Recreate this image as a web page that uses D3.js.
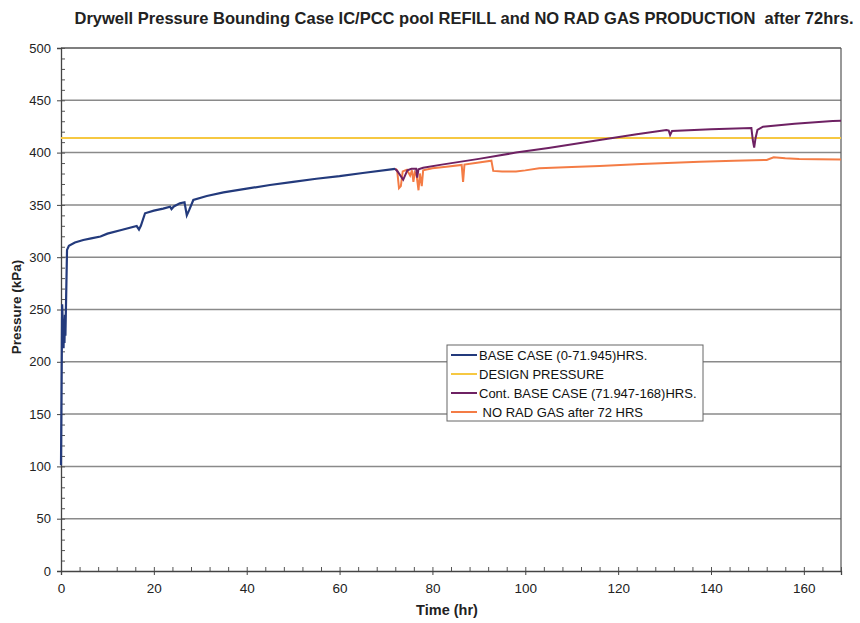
<!DOCTYPE html>
<html>
<head>
<meta charset="utf-8">
<script src="https://cdn.jsdelivr.net/npm/d3@7"></script>
<style>
  body { margin: 0; background: #fff; }
  svg text { font-family: "Liberation Sans", Arial, sans-serif; white-space: pre; }
</style>
</head>
<body>
<div id="chart"></div>
<script>
// --- Data ---
const baseCaseTime = [0, 0.25, 0.4, 0.55, 0.65, 0.75, 0.85, 0.95, 1.3, 1.7, 3, 4.8, 6.5, 8.5, 10, 13, 16.3, 16.8, 17.2, 18.1, 20, 22, 23.5, 23.8, 24.3, 25.6, 26.6, 27.1, 27.6, 28.5, 31.4, 35, 40, 45, 50, 55, 60, 65, 71.945];
const baseCasePressure = [101, 255, 235, 213, 240, 218, 245, 225, 307, 311, 314, 316.4, 318, 319.8, 322.5, 326, 329.8, 326.5, 330, 342, 344.5, 346.5, 348.3, 346, 348.5, 351.5, 352.5, 340, 345, 354.7, 358.5, 362, 365.5, 369, 372, 375, 377.5, 380.5, 384.5];

const contTime = [71.947, 72.5, 73.7, 74.6, 75.5, 76.5, 76.7, 77, 78, 82, 90, 98, 105, 116, 124, 130.4, 130.9, 131.2, 131.6, 140, 148.7, 149, 149.3, 149.6, 150, 151.2, 158, 166.2, 168];
const contPressure = [384.5, 382, 374, 383, 384.5, 384.5, 376, 384, 385.5, 388.5, 394, 400, 404.5, 412, 417.5, 421.6, 421, 416.8, 420.6, 422.3, 423.5, 412, 404.7, 414, 421.6, 424.8, 427.5, 430.2, 430.5];

const noRadTime = [71.95, 72.4, 72.8, 73.2, 73.6, 74.5, 75.2, 75.6, 75.9, 76.2, 76.6, 77, 77.3, 77.7, 78, 80, 83, 86.3, 86.6, 86.9, 90, 92.7, 93.1, 95, 98, 100, 103, 110, 116, 125, 137.6, 145, 152, 153.5, 156, 159, 163, 168];
const noRadPressure = [384.5, 383, 366, 368, 382, 383.5, 378, 383, 372, 381, 378, 364, 380, 368, 383, 385, 386.5, 388.2, 372, 388.5, 390.5, 392.3, 382.5, 382, 382, 383, 385, 386.2, 387.2, 389, 391.3, 392.3, 393, 395.5, 394.5, 393.9, 393.6, 393.5];

const designPressure = 414;

const seriesNames = ["BASE CASE (0-71.945)HRS.", "DESIGN PRESSURE", "Cont. BASE CASE (71.947-168)HRS.", " NO RAD GAS after 72 HRS"];
const seriesColors = ["#233a7c", "#f6c842", "#6e2163", "#f47c45"];

const xTicks = [0, 20, 40, 60, 80, 100, 120, 140, 160];
const yTicks = [0, 50, 100, 150, 200, 250, 300, 350, 400, 450, 500];

const titleText = "Drywell Pressure Bounding Case IC/PCC pool REFILL and NO RAD GAS PRODUCTION  after 72hrs.";

// --- Layout ---
const W = 860, H = 623;
const margin = { top: 48, right: 19, bottom: 52, left: 61 };
const width = W - margin.left - margin.right;
const height = H - margin.top - margin.bottom;

const svg = d3.select("#chart").append("svg")
    .attr("width", W)
    .attr("height", H);

const g = svg.append("g")
    .attr("transform", `translate(${margin.left},${margin.top})`);

const x = d3.scaleLinear().domain([0, 168]).range([0, width]);
const y = d3.scaleLinear().domain([0, 500]).range([height, 0]);

// Grid lines
g.append("g")
    .selectAll("line")
    .data(yTicks.filter(d => d > 0))
    .enter().append("line")
    .attr("x1", 0).attr("x2", width)
    .attr("y1", d => y(d)).attr("y2", d => y(d))
    .attr("stroke", d => d === 500 ? "#555" : "#8a8a8a")
    .attr("stroke-width", 1.5);

// Right border
g.append("line")
    .attr("x1", width).attr("x2", width)
    .attr("y1", 0).attr("y2", height)
    .attr("stroke", "#555").attr("stroke-width", 1.2);

// Minor ticks
const yMinor = d3.range(0, 501, 10);
const xMinor = d3.range(0, 169, 4);

g.append("g")
    .call(d3.axisLeft(y).tickValues(yMinor).tickSize(-4).tickFormat(""))
    .call(a => a.select(".domain").remove())
    .selectAll("line").attr("stroke", "#555");

g.append("g")
    .attr("transform", `translate(0,${height})`)
    .call(d3.axisBottom(x).tickValues(xMinor).tickSize(-4).tickFormat(""))
    .call(a => a.select(".domain").remove())
    .selectAll("line").attr("stroke", "#555");

// Major axes
const yAxis = g.append("g")
    .call(d3.axisLeft(y).tickValues(yTicks).tickSize(4).tickPadding(6).tickFormat(d3.format("d")));
yAxis.select(".domain").attr("stroke", "#444").attr("stroke-width", 1.3);
yAxis.selectAll("line").attr("stroke", "#444");
yAxis.selectAll("text").attr("font-size", 13).attr("fill", "#222");

const xAxis = g.append("g")
    .attr("transform", `translate(0,${height})`)
    .call(d3.axisBottom(x).tickValues(xTicks).tickSize(4).tickPadding(8).tickFormat(d3.format("d")));
xAxis.select(".domain").attr("stroke", "#444").attr("stroke-width", 1.3);
xAxis.selectAll("line").attr("stroke", "#444");
xAxis.selectAll("text").attr("font-size", 13.5).attr("fill", "#222");

// Lines
const line = d3.line().x(d => x(d[0])).y(d => y(d[1]));

g.append("path")
    .datum([[0, designPressure], [168, designPressure]])
    .attr("fill", "none")
    .attr("stroke", seriesColors[1])
    .attr("stroke-width", 2)
    .attr("d", line);

g.append("path")
    .datum(noRadTime.map((t, i) => [t, noRadPressure[i]]))
    .attr("fill", "none")
    .attr("stroke", seriesColors[3])
    .attr("stroke-width", 2)
    .attr("d", line);

g.append("path")
    .datum(contTime.map((t, i) => [t, contPressure[i]]))
    .attr("fill", "none")
    .attr("stroke", seriesColors[2])
    .attr("stroke-width", 2)
    .attr("d", line);

g.append("path")
    .datum(baseCaseTime.map((t, i) => [t, baseCasePressure[i]]))
    .attr("fill", "none")
    .attr("stroke", seriesColors[0])
    .attr("stroke-width", 2.2)
    .attr("d", line);

// Title and axis labels
svg.append("text")
    .attr("x", 464).attr("y", 24)
    .attr("text-anchor", "middle")
    .attr("font-size", 16.5)
    .attr("font-weight", "bold")
    .attr("fill", "#222")
    .text(titleText);

svg.append("text")
    .attr("x", 447).attr("y", 615)
    .attr("text-anchor", "middle")
    .attr("font-size", 14.5)
    .attr("font-weight", "bold")
    .attr("fill", "#222")
    .text("Time (hr)");

svg.append("text")
    .attr("transform", "translate(21,307) rotate(-90)")
    .attr("text-anchor", "middle")
    .attr("font-size", 13.5)
    .attr("font-weight", "bold")
    .attr("fill", "#222")
    .text("Pressure (kPa)");

// Legend
const legend = svg.append("g").attr("transform", "translate(447,345)");
legend.append("rect")
    .attr("width", 256).attr("height", 76)
    .attr("fill", "#fff")
    .attr("stroke", "#666").attr("stroke-width", 1);

const item = legend.selectAll(".item")
    .data(seriesNames)
    .enter().append("g")
    .attr("class", "item")
    .attr("transform", (d, i) => `translate(0,${10 + i * 19})`);

item.append("line")
    .attr("x1", 4).attr("x2", 30)
    .attr("stroke", (d, i) => seriesColors[i])
    .attr("stroke-width", 2);

item.append("text")
    .attr("x", 32).attr("dy", "0.35em")
    .attr("font-size", 13)
    .attr("fill", "#111")
    .text(d => d);
</script>
</body>
</html>
